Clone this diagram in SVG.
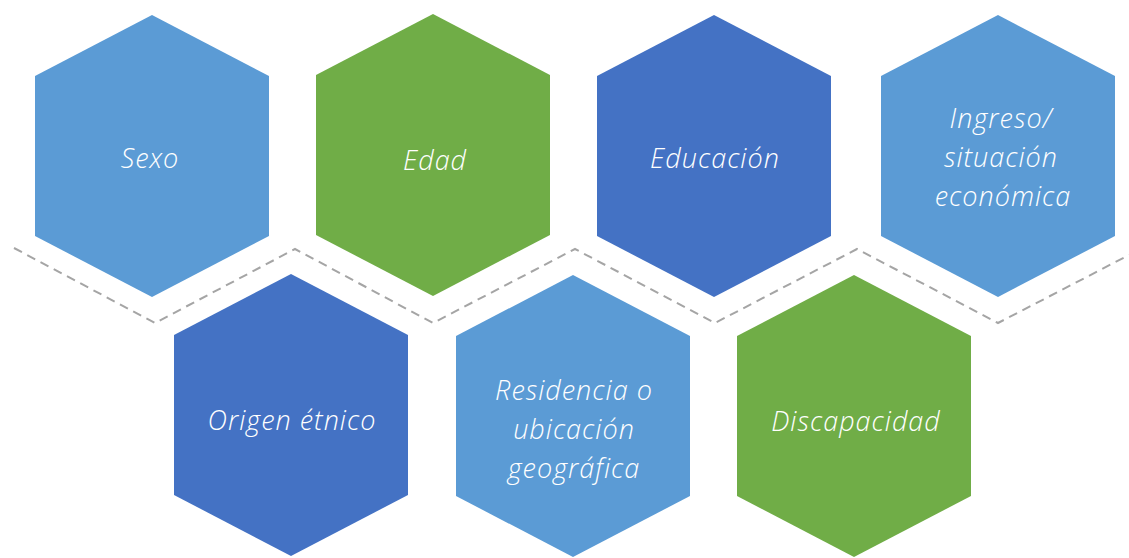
<svg xmlns="http://www.w3.org/2000/svg" width="1129" height="558" viewBox="0 0 1129 558">
<defs>
<style>
.lb{fill:#5B9BD5}.gr{fill:#70AD47}.db{fill:#4472C4}
text{font-family:"Open Sans","Noto Sans","Liberation Sans",sans-serif;font-style:italic;font-weight:300;font-size:27px;letter-spacing:1px;fill:#FFFFFF;text-anchor:middle}
.dash{fill:none;stroke:#A5A5A5;stroke-width:2;stroke-dasharray:9 6}
</style>
<polygon id="hex" points="0,-141 117,-80 117,80 0,141 -117,80 -117,-80"/>
</defs>
<rect width="1129" height="558" fill="#FFFFFF"/>
<g id="connectors">
<polyline class="dash" points="14,248 155,323 295,249 433,323 575,249 715,323 857,249 998,323 1129,255"/>
</g>
<g id="sexo"><use href="#hex" class="lb" x="152" y="156"/><text x="150" y="168">Sexo</text></g>
<g id="edad"><use href="#hex" class="gr" x="433" y="155"/><text x="435" y="170">Edad</text></g>
<g id="educacion"><use href="#hex" class="db" x="714" y="156"/><text x="715" y="168">Educación</text></g>
<g id="ingreso"><use href="#hex" class="lb" x="998" y="156"/><text x="1001" y="128">Ingreso/</text><text x="1001" y="167">situación</text><text x="1003" y="206">económica</text></g>
<g id="origen"><use href="#hex" class="db" x="291" y="415"/><text x="292" y="430">Origen étnico</text></g>
<g id="residencia"><use href="#hex" class="lb" x="573" y="416"/><text x="574" y="400">Residencia o</text><text x="574" y="439">ubicación</text><text x="574" y="478">geográfica</text></g>
<g id="discapacidad"><use href="#hex" class="gr" x="854" y="416"/><text x="856" y="431">Discapacidad</text></g>
</svg>
